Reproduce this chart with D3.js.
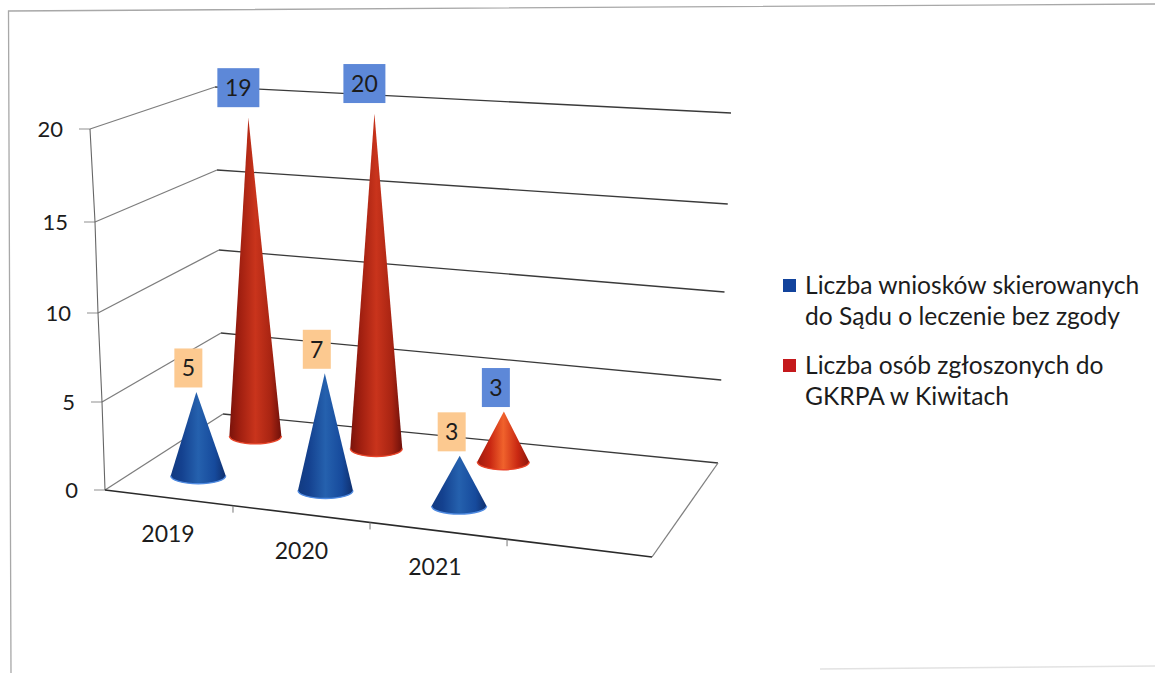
<!DOCTYPE html>
<html><head><meta charset="utf-8">
<script src="https://cdn.jsdelivr.net/npm/d3@7"></script>
<style>html,body{margin:0;padding:0;background:#fff;overflow:hidden}svg{display:block}text{font-family:Lato,"Noto Sans",sans-serif;fill:#1c1c1c}</style>
</head><body><svg id="c" width="1155" height="673"></svg>
<script>
const categories = ["2019","2020","2021"];
const seriesNames = ["Liczba wniosków skierowanych do Sądu o leczenie bez zgody","Liczba osób zgłoszonych do GKRPA w Kiwitach"];
const legendLines = [["Liczba wniosków skierowanych","do Sądu o leczenie bez zgody"],["Liczba osób zgłoszonych do","GKRPA w Kiwitach"]];
const blueValues = [5,7,3];
const redValues = [19,20,3];
const yTicks = [0,5,10,15,20];
const svg = d3.select("#c");

// floor corners of the 3D box
const FL=[105,490],FR=[652,557],BL=[223,414],BR=[718,463];
const lerp=(a,b,t)=>[a[0]+(b[0]-a[0])*t,a[1]+(b[1]-a[1])*t];
const floor=(u,v)=>lerp(lerp(FL,FR,u),lerp(BL,BR,u),v);

const yFrontX=d3.scaleLinear(yTicks,[105,102,98,95,90]), yFrontY=d3.scaleLinear(yTicks,[490,402,313,222,129]);
const yBackX=d3.scaleLinear([0,20],[223,215]), yBackY=d3.scaleLinear(yTicks,[414,333,250,170,87]);
const yRightX=d3.scaleLinear([0,20],[718,731]), yRightY=d3.scaleLinear(yTicks,[463,380,292,204,113]);
const uLabel=d3.scalePoint(categories,[0.1225,0.6105]);
const uTick=d3.scalePoint(categories,[0.234,0.735]);
const uCone=d3.scaleOrdinal(categories,[0.113,0.352,0.603]);
const vSeries=d3.scalePoint(["blue","red"],[0.28,0.79]);
const hScale=d3.scaleLinear([0,20],[0,335]);
const lean=d3.scaleLinear([0,1],[-10,13]);

// frame of the scanned page
const line=d3.line();
svg.append("path").attr("d",line([[11,673],[8.5,11],[1155,4]])).attr("fill","none").attr("stroke","#a8a8a8").attr("stroke-width",1.3);
svg.append("path").attr("d",line([[820,669],[1155,666]])).attr("fill","none").attr("stroke","#e2e2e2").attr("stroke-width",1.5);

// walls
const g=svg.append("g").attr("fill","none");
yTicks.forEach(t=>{
  const f=[yFrontX(t),yFrontY(t)],b=[yBackX(t),yBackY(t)],r=[yRightX(t),yRightY(t)];
  g.append("path").attr("d",line([b,r])).attr("stroke","#3a3a3a").attr("stroke-width",1.3);
  g.append("path").attr("d",line([f,b])).attr("stroke","#7d7d7d").attr("stroke-width",1.3);
  g.append("path").attr("d",line([[f[0]-11,f[1]],f])).attr("stroke","#999").attr("stroke-width",1.1);
  svg.append("text").attr("x",f[0]-27).attr("y",f[1]).attr("dy","0.36em").attr("text-anchor","end").attr("font-size",22).text(t);
});
g.append("path").attr("d",line(yTicks.map(t=>[yFrontX(t),yFrontY(t)]))).attr("stroke","#666").attr("stroke-width",1.1);
g.append("path").attr("d",line([FR,BR])).attr("stroke","#808080").attr("stroke-width",1.3);
g.append("path").attr("d",line([FL,FR])).attr("stroke","#2a2a2a").attr("stroke-width",1.7);
categories.forEach(c=>{
  const p=floor(uTick(c),0);
  g.append("path").attr("d",line([p,[p[0],p[1]+7]])).attr("stroke","#777");
  const q=floor(uLabel(c),0);
  svg.append("text").attr("x",q[0]-4).attr("y",q[1]+36).attr("text-anchor","middle").attr("dy","0.36em").attr("font-size",23).text(c);
});

// gradients
const defs=svg.append("defs");
const grad=(id,stops)=>{const l=defs.append("linearGradient").attr("id",id);stops.forEach(s=>l.append("stop").attr("offset",s[0]).attr("stop-color",s[1]));};
grad("gb",[[0,"#123a80"],[.2,"#14418f"],[.5,"#2561ae"],[.8,"#164a9c"],[1,"#0f2f6e"]]);
grad("gr",[[0,"#7a130b"],[.2,"#a01f10"],[.5,"#c9341c"],[.8,"#a82412"],[1,"#6e100a"]]);
grad("gr2",[[0,"#a01a0e"],[.25,"#c92812"],[.5,"#f0622c"],[.78,"#c92812"],[1,"#8e160c"]]);

// cones, back series first
const rows=[];
categories.forEach((c,i)=>rows.push({c,s:"red",v:redValues[i]}));
categories.forEach((c,i)=>rows.push({c,s:"blue",v:blueValues[i]}));
const labels=[];
rows.forEach(d=>{
  const u=uCone(d.c),[x,y]=floor(u,vSeries(d.s));
  const rx=d.s==="blue"?27.5:26, ry=8;
  const tx=x+lean(u)*d.v/20, ty=y-hScale(d.v);
  const fill=d.s==="blue"?"url(#gb)":(d.v<5?"url(#gr2)":"url(#gr)");
  svg.append("path").attr("d",`M${tx},${ty}L${x-rx},${y}A${rx},${ry} 0 0 0 ${x+rx},${y}Z`).attr("fill",fill);
  svg.append("path").attr("d",`M${x-rx},${y}A${rx},${ry} 0 0 0 ${x+rx},${y}`).attr("fill","none").attr("stroke",d.s==="blue"?"#4f8ae0":"#e8452a").attr("stroke-width",1.4);
  labels.push({d,tx,ty});
});
// data labels
labels.forEach(({d,tx,ty})=>{
  const w=d.v>=10?42:28, h=39, cx=tx-(d.v>=10?10:8), cy=ty-(d.v>=10?30:24);
  svg.append("rect").attr("x",cx-w/2).attr("y",cy-h/2).attr("width",w).attr("height",h).attr("fill",d.s==="blue"?"#fcc990":"#5d88d8");
  svg.append("text").attr("x",cx).attr("y",cy).attr("dy","0.36em").attr("text-anchor","middle").attr("font-size",23).text(d.v);
});

// legend
const legendColors=["#12439c","#c4191c"], legendY=[[285,316],[365,396]];
seriesNames.forEach((n,i)=>{
  svg.append("rect").attr("x",783).attr("y",legendY[i][0]-6).attr("width",13).attr("height",13).attr("fill",legendColors[i]);
  legendLines[i].forEach((t,j)=>svg.append("text").attr("x",805).attr("y",legendY[i][j]).attr("dy","0.36em").attr("font-size",24.6).text(t));
});
</script></body></html>
